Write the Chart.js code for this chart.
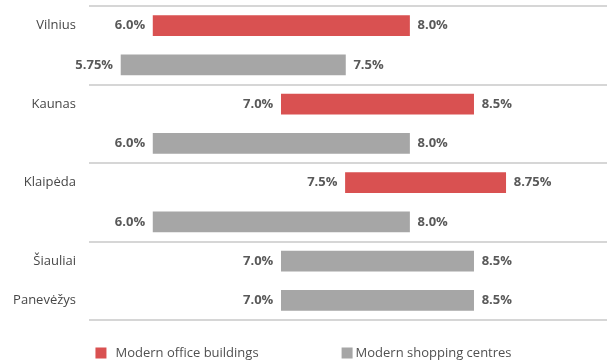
<!DOCTYPE html>
<html>
<head>
<meta charset="utf-8">
<script src="https://cdn.jsdelivr.net/npm/chart.js@4"></script>
<style>
  html, body { margin: 0; padding: 0; background: #fff; }
  #wrap { width: 607px; height: 360px; }
</style>
</head>
<body>
<div id="wrap"><canvas id="chart"></canvas></div>
<script>
(function () {
    'use strict';

    // =========================================================================
    // Data (ranges of yields, %)
    // =========================================================================

    var rowLabels = ['Vilnius', '', 'Kaunas', '', 'Klaipėda', '', 'Šiauliai', 'Panevėžys'];

    var officeLow  = [6.0, null, 7.0, null, 7.5, null, null, null];
    var officeHigh = [8.0, null, 8.5, null, 8.75, null, null, null];

    var shopLow  = [null, 5.75, null, 6.0, null, 6.0, 7.0, 7.0];
    var shopHigh = [null, 7.5, null, 8.0, null, 8.0, 8.5, 8.5];

    var seriesNames = ['Modern office buildings', 'Modern shopping centres'];

    var RED = '#d95151';
    var GREY = '#a6a6a6';
    var FONT = '"Open Sans", "Noto Sans", sans-serif';

    function pairs(lo, hi) {
        return lo.map(function (v, i) {
            return v === null ? null : [v, hi[i]];
        });
    }

    function fmt(v) {
        return (Number.isInteger(v) ? v.toFixed(1) : String(v)) + '%';
    }

    // =========================================================================
    // Plugins: end labels + custom legend
    // =========================================================================

    var endLabels = {
        id: 'endLabels',
        afterDatasetsDraw: function (chart) {
            var ctx = chart.ctx;
            ctx.save();
            ctx.font = 'bold 13px ' + FONT;
            ctx.fillStyle = '#595959';
            ctx.textBaseline = 'middle';
            chart.data.datasets.forEach(function (ds, di) {
                var meta = chart.getDatasetMeta(di);
                meta.data.forEach(function (bar, i) {
                    var v = ds.data[i];
                    if (!v) return;
                    var left = Math.min(bar.x, bar.base);
                    var right = Math.max(bar.x, bar.base);
                    ctx.textAlign = 'right';
                    ctx.fillText(fmt(v[0]), left - 8, bar.y);
                    ctx.textAlign = 'left';
                    ctx.fillText(fmt(v[1]), right + 8, bar.y);
                });
            });
            ctx.restore();
        }
    };

    var bottomLegend = {
        id: 'bottomLegend',
        afterDraw: function (chart) {
            var ctx = chart.ctx;
            var box = 11;
            var gaps = [9, 3];
            var itemGap = 83;
            ctx.save();
            ctx.font = '13px ' + FONT;
            var widths = seriesNames.map(function (t) { return ctx.measureText(t).width; });
            var total = box + gaps[0] + widths[0] + itemGap + box + gaps[1] + widths[1];
            var x = (chart.width - total) / 2;
            var y = 353;
            ctx.textBaseline = 'middle';
            ctx.textAlign = 'left';
            chart.data.datasets.forEach(function (ds, i) {
                ctx.fillStyle = ds.backgroundColor;
                ctx.fillRect(x, y - box / 2, box, box);
                x += box + gaps[i];
                ctx.fillStyle = '#505050';
                ctx.fillText(seriesNames[i], x, y);
                x += widths[i] + itemGap;
            });
            ctx.restore();
        }
    };

    // =========================================================================
    // Chart
    // =========================================================================

    new Chart(document.getElementById('chart'), {
        type: 'bar',
        data: {
            labels: rowLabels,
            datasets: [{
                label: seriesNames[0],
                data: pairs(officeLow, officeHigh),
                backgroundColor: RED,
                grouped: false,
                barThickness: 20
            }, {
                label: seriesNames[1],
                data: pairs(shopLow, shopHigh),
                backgroundColor: GREY,
                grouped: false,
                barThickness: 20
            }]
        },
        options: {
            indexAxis: 'y',
            responsive: true,
            maintainAspectRatio: false,
            animation: false,
            layout: {
                padding: { top: 6, bottom: 40, left: 0, right: 0 }
            },
            plugins: {
                legend: { display: false },
                tooltip: { enabled: false }
            },
            scales: {
                x: {
                    display: false,
                    min: 5.5,
                    max: 9.54
                },
                y: {
                    offset: true,
                    border: { display: false },
                    grid: {
                        offset: true,
                        drawTicks: false,
                        lineWidth: 2,
                        color: function (ctx) {
                            return (ctx.index === undefined || ctx.index % 2 === 0)
                                ? '#d6d6d6' : 'rgba(0,0,0,0)';
                        }
                    },
                    ticks: {
                        padding: 13,
                        color: '#474747',
                        font: { family: FONT, size: 13 }
                    },
                    afterFit: function (scale) {
                        scale.width = 89;
                        scale.paddingTop = 0;
                        scale.paddingBottom = 0;
                    }
                }
            }
        },
        plugins: [endLabels, bottomLegend]
    });
})();
</script>
</body>
</html>
